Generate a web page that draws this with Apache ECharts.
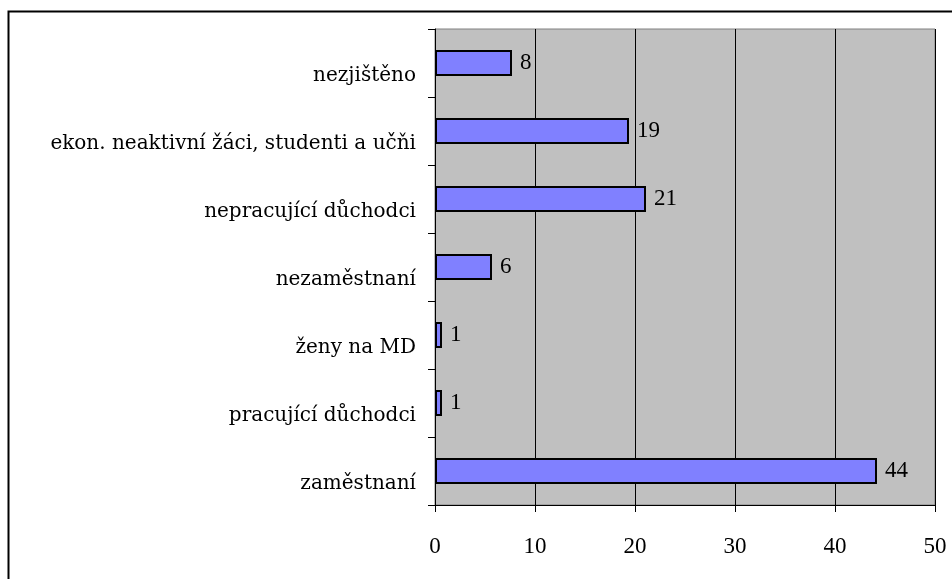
<!DOCTYPE html>
<html><head><meta charset="utf-8">
<script src="https://cdn.jsdelivr.net/npm/echarts@6/dist/echarts.min.js"></script>
<style>html,body{margin:0;padding:0;background:#fff}#c{width:952px;height:579px}</style>
</head><body><div id="c"></div>
<script>
const categories = ['zaměstnaní','pracující důchodci','ženy na MD','nezaměstnaní','nepracující důchodci','ekon. neaktivní žáci, studenti a učňi','nezjištěno'];
const values = [44.2, 0.7, 0.7, 5.7, 21.1, 19.4, 7.7];
const xTicks = [0, 10, 20, 30, 40, 50];

const font = '"Liberation Serif", serif';
const catFont = '"DejaVu Serif", serif';
const chart = echarts.init(document.getElementById('c'));
chart.setOption({
  animation: false,
  backgroundColor: '#ffffff',
  graphic: [{
    type: 'rect', left: 6, top: 9, z: 100,
    shape: { x: 0, y: 0, width: 980, height: 620 },
    style: { fill: 'none', stroke: '#000', lineWidth: 2 }
  }],
  grid: {
    left: 435, top: 29, right: 17, bottom: 74,
    show: true, backgroundColor: '#C0C0C0', borderColor: '#808080', borderWidth: 1
  },
  xAxis: {
    type: 'value', min: xTicks[0], max: xTicks[xTicks.length - 1], interval: 10,
    axisLine: { show: true, lineStyle: { color: '#000', width: 1 } },
    axisTick: { show: true, length: 7, lineStyle: { color: '#000' } },
    axisLabel: { color: '#000', fontFamily: font, fontSize: 23, margin: 30 },
    splitLine: { show: true, lineStyle: { color: '#000', width: 1 } }
  },
  yAxis: {
    type: 'category', data: categories,
    axisLine: { show: true, lineStyle: { color: '#000', width: 1 } },
    axisTick: { show: true, length: 7, alignWithLabel: false, lineStyle: { color: '#000' } },
    axisLabel: {
      color: '#000', fontFamily: catFont, fontSize: 20, margin: 19,
      formatter: v => '{a|' + v + '}',
      rich: { a: { fontFamily: catFont, fontSize: 20, color: '#000', padding: [26, 0, 0, 0] } }
    },
    splitLine: { show: false }
  },
  series: [{
    type: 'bar', data: values, barWidth: 26,
    itemStyle: { color: '#8080FF', borderColor: '#000', borderWidth: 2 },
    label: {
      show: true, position: 'right', distance: 8, color: '#000',
      fontFamily: font, fontSize: 23,
      formatter: p => Math.round(p.value)
    }
  }]
});
</script></body></html>
